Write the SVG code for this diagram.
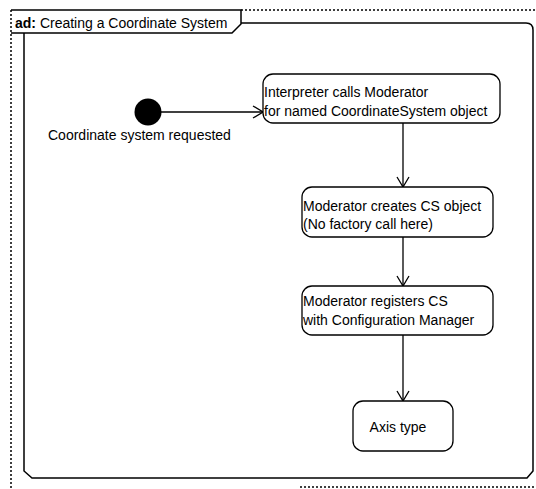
<svg xmlns="http://www.w3.org/2000/svg" width="536" height="489" viewBox="0 0 536 489">
<style>
  .dot { fill: none; stroke: #000; stroke-width: 1.5; stroke-dasharray: 2 2; }
  .frame { fill: none; stroke: #000; stroke-width: 1.5; }
  .box { fill: #fff; stroke: #000; stroke-width: 1.3; }
  .txt { font-family: "Liberation Sans", Arial, sans-serif; font-size: 14px; fill: #000; }
  .edge { fill: none; stroke: #000; stroke-width: 1.3; }
</style>
<defs>
  <marker id="open" markerWidth="12" markerHeight="14" refX="11" refY="7" orient="auto" markerUnits="userSpaceOnUse">
    <path d="M1,1 L11,7 L1,13" fill="none" stroke="#000" stroke-width="1.3"/>
  </marker>
</defs>
<rect width="536" height="489" fill="#fff"/>
<g id="frame">
  <path class="dot" d="M241 10 L536 10"/>
  <path class="dot" d="M11 10 L11 489"/>
  <path class="dot" d="M300 487 L536 487"/>
  <path class="frame" d="M11 10 L241 10 L241 24 L232 33 L11 33"/>
  <path class="frame" d="M241 23 L526 23 Q533 23 533 30 L533 471 L527 478 L32 478 L24 471 L24 33"/>
  <text class="txt" x="15" y="28"><tspan font-weight="bold">ad:</tspan> Creating a Coordinate System</text>
</g>
<g id="connectors">
  <path class="edge" d="M161 112 L263 112" marker-end="url(#open)"/>
  <path class="edge" d="M403 123 L403 187" marker-end="url(#open)"/>
  <path class="edge" d="M403 237 L403 286" marker-end="url(#open)"/>
  <path class="edge" d="M403 335 L403 401" marker-end="url(#open)"/>
</g>
<g id="start">
  <circle cx="148" cy="112" r="13.5" fill="#000"/>
  <text class="txt" x="48" y="140">Coordinate system requested</text>
</g>
<g id="interpreter">
  <rect class="box" x="263" y="74" width="237" height="49" rx="10"/>
  <text class="txt" x="264" y="97">Interpreter calls Moderator</text>
  <text class="txt" x="264" y="116">for named CoordinateSystem object</text>
</g>
<g id="creates">
  <rect class="box" x="302" y="187" width="191" height="50" rx="10"/>
  <text class="txt" x="303" y="211">Moderator creates CS object</text>
  <text class="txt" x="303" y="229">(No factory call here)</text>
</g>
<g id="registers">
  <rect class="box" x="302" y="286" width="191" height="49" rx="10"/>
  <text class="txt" x="303" y="306">Moderator registers CS</text>
  <text class="txt" x="303" y="325">with Configuration Manager</text>
</g>
<g id="axis">
  <rect class="box" x="353" y="401" width="100" height="50" rx="10"/>
  <text class="txt" x="398" y="432" text-anchor="middle">Axis type</text>
</g>
</svg>
